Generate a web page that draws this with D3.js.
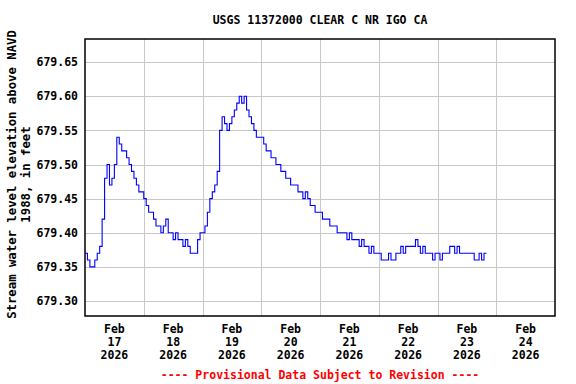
<!DOCTYPE html>
<html>
<head>
<meta charset="utf-8">
<script src="https://cdn.jsdelivr.net/npm/d3@7"></script>
<style>
  body { margin: 0; background: #fff; }
  text { font-family: "DejaVu Sans Mono", monospace; font-weight: bold; font-size: 11.5px; }
  .ytitle { font-size: 12.3px; }
</style>
</head>
<body>
<svg width="576" height="384"></svg>
<script>
// hourly gage height readings, starting Feb 17 2026 00:00
var feb17 = [679.37, 679.36, 679.35, 679.35, 679.36, 679.37, 679.38, 679.42, 679.48, 679.50, 679.47, 679.48,
             679.50, 679.54, 679.53, 679.52, 679.52, 679.51, 679.50, 679.49, 679.48, 679.47, 679.46, 679.46];
var feb18 = [679.45, 679.44, 679.43, 679.43, 679.42, 679.41, 679.41, 679.40, 679.41, 679.42, 679.40, 679.40,
             679.39, 679.40, 679.39, 679.39, 679.38, 679.39, 679.38, 679.37, 679.37, 679.37, 679.39, 679.40];
var feb19 = [679.40, 679.41, 679.43, 679.45, 679.46, 679.47, 679.49, 679.55, 679.57, 679.56, 679.55, 679.56,
             679.57, 679.58, 679.59, 679.60, 679.59, 679.60, 679.58, 679.57, 679.56, 679.55, 679.54, 679.54];
var feb20 = [679.54, 679.53, 679.52, 679.52, 679.51, 679.51, 679.50, 679.50, 679.49, 679.49, 679.48, 679.48,
             679.47, 679.47, 679.47, 679.46, 679.46, 679.45, 679.46, 679.45, 679.44, 679.44, 679.43, 679.43];
var feb21 = [679.43, 679.42, 679.42, 679.42, 679.41, 679.41, 679.41, 679.40, 679.40, 679.40, 679.40, 679.39,
             679.40, 679.39, 679.39, 679.39, 679.38, 679.39, 679.38, 679.38, 679.37, 679.38, 679.37, 679.37];
var feb22 = [679.37, 679.36, 679.36, 679.36, 679.37, 679.36, 679.36, 679.37, 679.37, 679.38, 679.37, 679.38,
             679.38, 679.38, 679.38, 679.39, 679.38, 679.37, 679.38, 679.37, 679.37, 679.37, 679.36, 679.37];
var feb23 = [679.37, 679.36, 679.37, 679.37, 679.37, 679.38, 679.38, 679.37, 679.38, 679.37, 679.37, 679.37,
             679.37, 679.37, 679.37, 679.36, 679.36, 679.37, 679.36, 679.37, 679.37];

var yTicks = [679.30, 679.35, 679.40, 679.45, 679.50, 679.55, 679.60, 679.65];
var dayLabels = ["17", "18", "19", "20", "21", "22", "23", "24"];
var monthLabel = "Feb", yearLabel = "2026";
var titleText = "USGS 11372000 CLEAR C NR IGO CA";
var yTitle = ["Stream water level elevation above NAVD", "1988, in feet"];
var footerText = "---- Provisional Data Subject to Revision ----";

var svg = d3.select("svg"),
  margin = {top: 39, right: 21, bottom: 68, left: 85},
  width = +svg.attr("width") - margin.left - margin.right,
  height = +svg.attr("height") - margin.top - margin.bottom,
  g = svg.append("g").attr("transform", "translate(" + margin.left + "," + margin.top + ")");

var start = new Date(2026, 1, 17);
var values = [].concat(feb17, feb18, feb19, feb20, feb21, feb22, feb23);
var data = values.map((v, i) => { return {date: d3.timeHour.offset(start, i), value: v}; });
var days = dayLabels.map((d, i) => d3.timeDay.offset(start, i));

var x = d3.scaleTime().domain([start, d3.timeDay.offset(start, 8)]).range([0, width]),
  y = d3.scaleLinear().domain([679.278, 679.684]).range([height, 0]);

// grid
g.append("g")
  .attr("class", "grid")
  .call(d3.axisLeft(y).tickValues(yTicks).tickSize(-width).tickFormat(""))
  .call(s => s.select(".domain").remove())
  .selectAll("line").attr("stroke", "#c8c8c8").attr("shape-rendering", "crispEdges");

g.append("g")
  .attr("class", "grid")
  .attr("transform", "translate(0," + height + ")")
  .call(d3.axisBottom(x).tickValues(days.slice(1)).tickSize(-height).tickFormat(""))
  .call(s => s.select(".domain").remove())
  .selectAll("line").attr("stroke", "#c8c8c8").attr("shape-rendering", "crispEdges");

// y tick labels
g.append("g")
  .attr("class", "axis axis--y")
  .call(d3.axisLeft(y).tickValues(yTicks).tickSize(0).tickPadding(7).tickFormat(d3.format(".2f")))
  .call(s => s.select(".domain").remove())
  .selectAll("text").attr("fill", "#000");
g.select(".axis--y").attr("font-family", null).attr("font-size", null);

// x tick labels, at noon of each day
var xl = g.selectAll(".xlabel")
  .data(days)
  .enter().append("text")
  .attr("class", "xlabel")
  .attr("text-anchor", "middle")
  .attr("transform", d => "translate(" + x(d3.timeHour.offset(d, 12)) + "," + (height + 17) + ")");
xl.append("tspan").attr("x", 0).attr("y", 0).text(monthLabel);
xl.append("tspan").attr("x", 0).attr("y", 13).text((d, i) => dayLabels[i]);
xl.append("tspan").attr("x", 0).attr("y", 26).text(yearLabel);

// data line
g.append("path")
  .datum(data)
  .attr("fill", "none")
  .attr("stroke", "#0000ff")
  .attr("stroke-width", 1.1)
  .attr("d", d3.line()
    .curve(d3.curveStepAfter)
    .x(d => x(d.date))
    .y(d => y(d.value)));

// frame
g.append("rect")
  .attr("x", 0).attr("y", 0)
  .attr("width", width).attr("height", height)
  .attr("fill", "none")
  .attr("stroke", "#000")
  .attr("stroke-width", 1.5);

svg.append("text")
  .attr("x", margin.left + width / 2)
  .attr("y", 24)
  .attr("text-anchor", "middle")
  .text(titleText);

yTitle.forEach((t, i) => {
  svg.append("text")
    .attr("class", "ytitle")
    .attr("transform", "translate(" + (12 + i * 14) + "," + (margin.top + height / 2 - 3) + ") rotate(-90)")
    .attr("text-anchor", "middle")
    .attr("dy", "0.35em")
    .text(t);
});

svg.append("text")
  .attr("x", margin.left + width / 2)
  .attr("y", 379)
  .attr("text-anchor", "middle")
  .attr("fill", "#ff0000")
  .text(footerText);
</script>
</body>
</html>
